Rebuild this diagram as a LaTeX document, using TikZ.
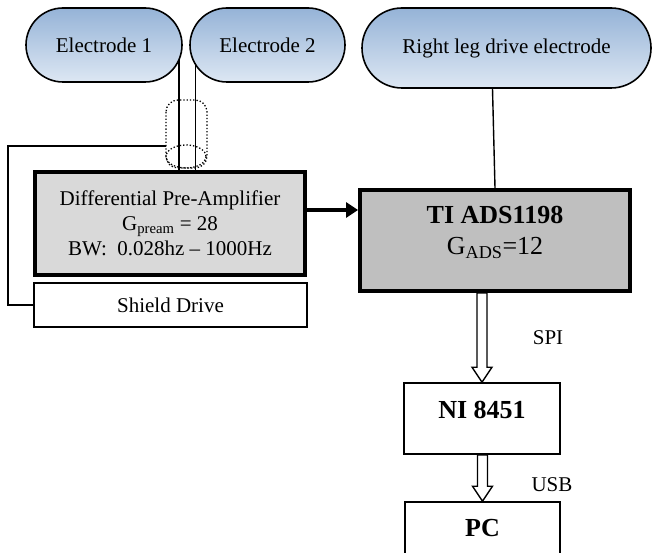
\documentclass[tikz,border=0pt]{standalone}
\usepackage{fontspec}
\setmainfont{Liberation Serif}
\usetikzlibrary{arrows.meta}
\usetikzlibrary{backgrounds}
\definecolor{eltop}{RGB}{149,179,215}
\definecolor{elbot}{RGB}{221,231,243}
\definecolor{pregray}{RGB}{217,217,217}
\definecolor{adsgray}{RGB}{191,191,191}
\tikzset{electrode/.style = {draw, line width=1.6pt, top color=eltop, bottom color=elbot,
                             minimum height=74pt, rounded corners=37pt,
                             font=\fontsize{21}{25}\selectfont}}
\tikzset{thickbox/.style = {draw, line width=4pt, align=center, font=\fontsize{21}{25}\selectfont}}
\tikzset{plainbox/.style = {draw, line width=1.6pt, fill=white, font=\fontsize{21}{25}\selectfont}}
\tikzset{bigtext/.style = {align=center, font=\fontsize{26}{31}\selectfont}}
\tikzset{smalltext/.style = {font=\fontsize{21}{25}\selectfont}}
\tikzset{wire/.style = {line width=1.4pt}}
\tikzset{shieldline/.style = {dotted, line width=1.3pt}}
\tikzset{bigarrow/.style = {line width=3.5pt, -{Triangle[length=12pt, width=15pt]}}}
\tikzset{hollow/.style = {draw, line width=1.4pt, fill=white, line join=miter}}
\newcommand{\busarrow}[2]{%
  \coordinate (#1top) at (#2.north |- #1.south);
  \draw [hollow] (#2.north) -- ([xshift=-10pt, yshift=15pt]#2.north)
    -- ([xshift=-5pt, yshift=15pt]#2.north) -- ([xshift=-5pt]#1top)
    -- ([xshift=5pt]#1top) -- ([xshift=5pt, yshift=15pt]#2.north)
    -- ([xshift=10pt, yshift=15pt]#2.north) -- cycle;}

\begin{document}
\begin{tikzpicture}[x=1pt, y=-1pt]
  \useasboundingbox (0,0) rectangle (652,553);
  \clip (0,0) rectangle (652,553);
  \node [electrode, minimum width=156pt] (e1) at (104,45) {Electrode 1};
  \node [electrode, minimum width=155pt] (e2) at (267.5,45) {Electrode 2};
  \node [electrode, minimum width=289pt, minimum height=80pt, rounded corners=40pt] (rld) at (506.5,48) {Right leg drive electrode};
  \node [thickbox, fill=pregray, minimum width=270pt, minimum height=103pt] (pre) at (170,223.5)
        {Differential Pre-Amplifier\\ G\textsubscript{pream} = 28\\ BW:\ \ 0.028hz – 1000Hz};
  \node [plainbox, minimum width=273pt, minimum height=44pt] (sd) at (170.5,305) {Shield Drive};
  \node [thickbox, fill=adsgray, minimum width=270pt, minimum height=101pt] (ti) at (495,240.5) {};
  \node [bigtext] (tilab) at ([yshift=8pt]ti.center) {\textbf{TI ADS1198}\\ G\textsubscript{ADS}=12};
  \node [plainbox, minimum width=156pt, minimum height=71pt] (ni) at (482,418.5) {};
  \node [bigtext] (nilab) at ([yshift=8.5pt]ni.center) {\textbf{NI 8451}};
  \node [plainbox, minimum width=155pt, minimum height=71pt] (pc) at (482.5,537.5) {};
  \node [bigtext] (pclab) at ([yshift=9.5pt]pc.center) {\textbf{PC}};
  \node [smalltext] (spi) at (548,338) {SPI};
  \node [smalltext] (usb) at (552,485) {USB};
  \coordinate (w1) at ([xshift=-4pt]e1.east);
  \coordinate (w2) at ([xshift=6pt]e2.west);
  \coordinate (shieldin) at (166,146);
  \coordinate (rldout) at ([xshift=-14pt]rld.south);
  \coordinate (preout) at ([yshift=13.5pt]pre.east);
  \begin{scope}[on background layer]
    \draw [wire] (w1) -- (w1 |- pre.north);
    \draw [wire] (w2) -- (w2 |- pre.north);
  \end{scope}
  \draw [shieldline, rounded corners=12pt] (166,100) rectangle (207,168);
  \draw [shieldline] (186,156.5) ellipse (20 and 11.5);
  \draw [wire] (shieldin) -- (8,146) |- (sd.west);
  \draw [wire] (rldout) -- (ti.north);
  \draw [bigarrow] (preout) -- (preout -| ti.west);
  \busarrow{ti}{ni}
  \busarrow{ni}{pc}
\end{tikzpicture}
\end{document}
